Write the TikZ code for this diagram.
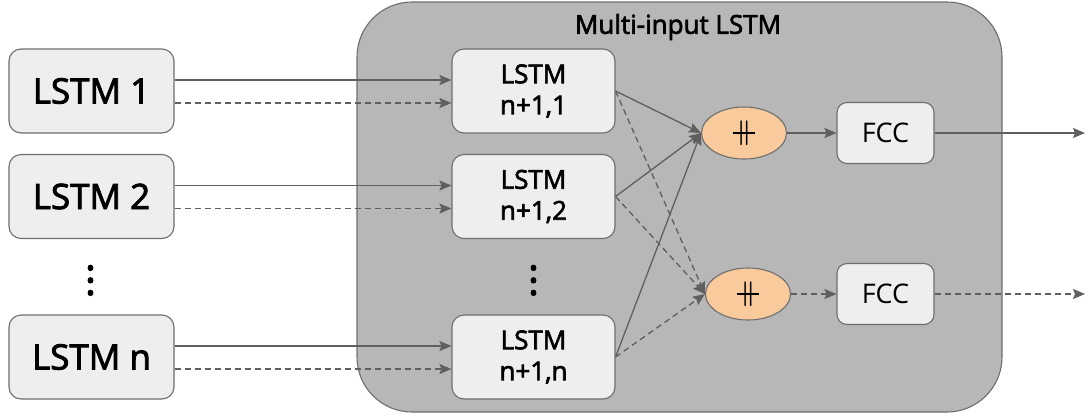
\documentclass[tikz,border=0pt]{standalone}
\usepackage{fontspec}
\setmainfont{Open Sans}
\newfontfamily\medfont{Open Sans}[FakeBold=2.5]
\usetikzlibrary{arrows.meta, shapes.geometric}
\definecolor{panel}{HTML}{B7B7B7}
\definecolor{boxfill}{HTML}{EEEEEE}
\definecolor{edge}{HTML}{6E6E6E}
\definecolor{wire}{HTML}{5F5F5F}
\definecolor{joinfill}{HTML}{F9CB9C}
% concatenation sign: a double bar crossed by a short stroke
\newcommand\catsym{\makebox[0pt][c]{\boldmath$\Vert$}\makebox[0pt][c]{\raisebox{0.2em}{\rule{0.88em}{0.09em}}}}
\tikzset{
  panelbox/.style={draw=edge, line width=1.1pt, fill=panel, rounded corners=55pt},
  srcbox/.style={draw=edge, line width=1.1pt, fill=boxfill, rounded corners=12pt,
    minimum width=165pt, minimum height=84pt, inner sep=0pt,
    font=\medfont\fontsize{35}{38}\selectfont},
  lstmbox/.style={draw=edge, line width=1.1pt, fill=boxfill, rounded corners=12pt,
    minimum width=163pt, minimum height=84pt, inner sep=0pt, align=center,
    font=\medfont\fontsize{26}{31}\selectfont},
  joinnode/.style={draw=edge, line width=1.1pt, fill=joinfill, ellipse,
    minimum width=85pt, minimum height=52pt, inner sep=0pt,
    font=\fontsize{26}{26}\selectfont},
  fccbox/.style={draw=edge, line width=1.1pt, fill=boxfill, rounded corners=10pt,
    minimum width=97pt, minimum height=61pt, inner sep=0pt,
    font=\fontsize{27}{28}\selectfont},
  dotsnode/.style={font=\medfont\fontsize{40}{12.5}\selectfont, align=center, inner sep=0pt},
  wiresolid/.style={draw=wire, line width=1.3pt, -{Stealth[length=12pt,width=10pt,inset=2pt]}},
  wiredash/.style={wiresolid, dash pattern=on 6pt off 4pt},
}
\begin{document}
\begin{tikzpicture}[x=1pt, y=-1pt]
\useasboundingbox (0,0) rectangle (1089,416);
% enclosing module
\node[panelbox, minimum width=645pt, minimum height=410pt] (panel) at (679.5,207) {};
\node[font=\medfont\fontsize{26}{28}\selectfont] (title) at (678,27) {Multi-input LSTM};

% upstream LSTMs
\node[srcbox] (s1) at (91.5,91) {LSTM 1};
\node[srcbox] (s2) at (91.5,196.5) {LSTM 2};
\node[srcbox] (sn) at (91.5,357) {LSTM n};
\node[dotsnode, anchor=north] (sd) at (90.5,265) {.\\.\\.};

% inner LSTMs
\node[lstmbox] (i1) at (533.5,91) {LSTM\\n+1,1};
\node[lstmbox] (i2) at (533.5,196.5) {LSTM\\n+1,2};
\node[lstmbox] (in) at (533.5,357) {LSTM\\n+1,n};
\node[dotsnode, anchor=north] (id) at (533.5,265) {.\\.\\.};

% concatenation and fully connected heads
\node[joinnode] (c1) at (744,133) {\catsym};
\node[joinnode] (c2) at (748,294) {\catsym};
\node[fccbox] (f1) at (885.5,133) {FCC};
\node[fccbox] (f2) at (885.5,294) {FCC};
\coordinate (o1) at (1085,133);
\coordinate (o2) at (1085,294);

% hidden (solid) and cell (dashed) states into the inner LSTMs
\foreach \a/\b in {s1/i1, s2/i2, sn/in}{
  \draw[wiresolid] ([yshift=11pt]\a.east) -- ([yshift=11pt]\b.west);
  \draw[wiredash] ([yshift=-12pt]\a.east) -- ([yshift=-12pt]\b.west);
}

% inner LSTMs into the two concatenations
\foreach \a in {i1, i2, in}{
  \draw[wiresolid] (\a.east) -- (c1.west);
  \draw[wiredash] (\a.east) -- (c2.west);
}

% heads
\draw[wiresolid] (c1) -- (f1);
\draw[wiredash] (c2) -- (f2);
\draw[wiresolid] (f1) -- (o1);
\draw[wiredash] (f2) -- (o2);
\end{tikzpicture}
\end{document}
